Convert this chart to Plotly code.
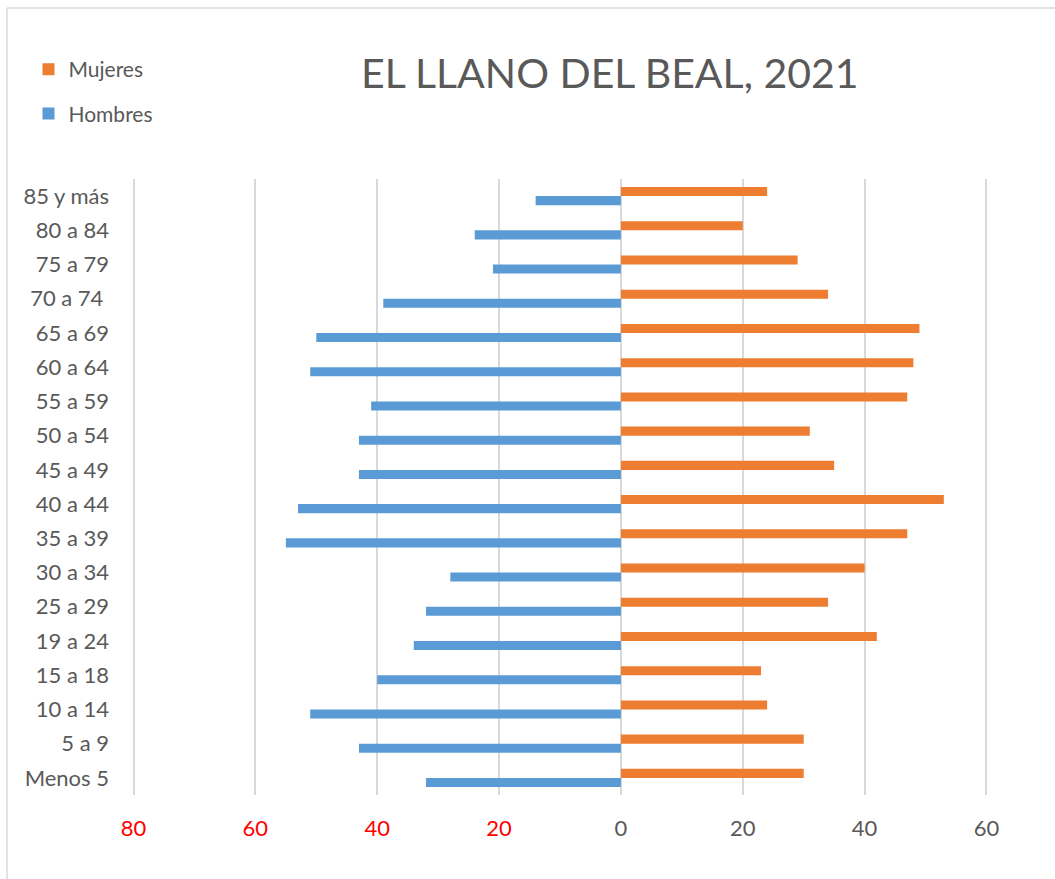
import plotly.graph_objects as go

categorias = ["Menos 5", "5 a 9", "10 a 14", "15 a 18", "19 a 24", "25 a 29", "30 a 34",
              "35 a 39", "40 a 44", "45 a 49", "50 a 54", "55 a 59", "60 a 64", "65 a 69",
              "70 a 74 ", "75 a 79", "80 a 84", "85 y más"]
hombres = [32, 43, 51, 40, 34, 32, 28, 55, 53, 43, 43, 41, 51, 50, 39, 21, 24, 14]
mujeres = [30, 30, 24, 23, 42, 34, 40, 47, 53, 35, 31, 47, 48, 49, 34, 29, 20, 24]
tick_vals = [-80, -60, -40, -20, 0, 20, 40, 60]
tick_text = ['<span style="color:#FF0000">80</span>', '<span style="color:#FF0000">60</span>',
             '<span style="color:#FF0000">40</span>', '<span style="color:#FF0000">20</span>',
             '0', '20', '40', '60']

FONT = "Lato"
GRAY = "#595959"
GRID = "#D9D9D9"
L, R, T, B = 132, 67, 179, 84
W, H = 1055, 879
PW, PH = W - L - R, H - T - B

fig = go.Figure()
fig.add_trace(go.Bar(
    y=categorias, x=[-v for v in hombres], orientation="h", name="Hombres",
    marker=dict(color="#5B9BD5", line=dict(width=0)), legendgroup="h", legendrank=2,
    customdata=hombres, hovertemplate="%{y}: %{customdata}<extra>Hombres</extra>"))
fig.add_trace(go.Bar(
    y=categorias, x=mujeres, orientation="h", name="Mujeres",
    marker=dict(color="#ED7D31", line=dict(width=0)), legendgroup="m", legendrank=1,
    hovertemplate="%{y}: %{x}<extra>Mujeres</extra>"))

fig.update_layout(
    width=W, height=H,
    margin=dict(l=L, r=R, t=T, b=B, autoexpand=False),
    paper_bgcolor="white", plot_bgcolor="white",
    barmode="group", bargap=0.47, bargroupgap=0,
    font=dict(family=FONT, color=GRAY, size=22),
    title=dict(text="EL LLANO DEL BEAL, 2021", x=0.578, xanchor="center",
               y=1 - 74 / H, yanchor="middle",
               font=dict(family=FONT, size=41, color=GRAY)),
    legend=dict(xref="container", yref="container", x=0.027, y=1 - 49 / H,
                xanchor="left", yanchor="top", traceorder="grouped",
                tracegroupgap=14, font=dict(size=21, color=GRAY),
                bgcolor="rgba(0,0,0,0)"),
    xaxis=dict(range=[-80.25, 60.25], tickvals=tick_vals, ticktext=tick_text,
               showgrid=True, gridcolor=GRID, gridwidth=1.5,
               zeroline=True, zerolinecolor=GRID, zerolinewidth=1.5,
               showline=False, ticks="", ticklabelstandoff=18, automargin=False,
               tickfont=dict(size=22, color=GRAY), fixedrange=True),
    yaxis=dict(type="category", categoryorder="array", categoryarray=categorias,
               showgrid=False, zeroline=False, showline=False, ticks="",
               ticklabelstandoff=22, tickfont=dict(size=22, color=GRAY), automargin=False,
               range=[-0.5, len(categorias) - 0.5], fixedrange=True),
    shapes=[
        dict(type="line", xref="paper", yref="paper", x0=(7 - L) / PW, x1=(W - L) / PW,
             y0=1 + (T - 8) / PH, y1=1 + (T - 8) / PH, line=dict(color=GRID, width=1.5)),
        dict(type="line", xref="paper", yref="paper", x0=(7 - L) / PW, x1=(7 - L) / PW,
             y0=1 + (T - 8) / PH, y1=-B / PH, line=dict(color=GRID, width=1.5)),
    ],
)

fig.write_html("out.html", config={"displayModeBar": False},
               post_script="document.body.style.margin='0';document.body.style.overflow='hidden';")
